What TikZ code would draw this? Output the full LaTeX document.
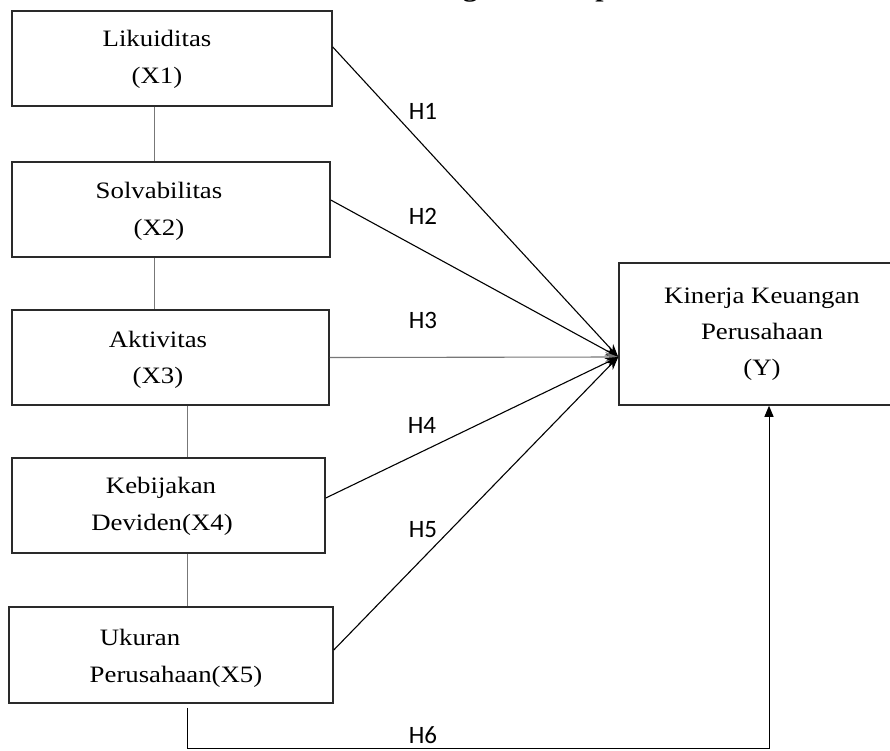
\documentclass[tikz,border=0pt]{standalone}
\usepackage{fontspec}
\setmainfont{Liberation Serif}[FakeStretch=1.14]
\newfontfamily\labfont{Carlito}
\usetikzlibrary{arrows.meta}
\definecolor{boxline}{HTML}{2A2A2A}
\definecolor{linkgray}{HTML}{777777}
\tikzset{
  varbox/.style={draw=boxline, line width=1.5pt, inner sep=0pt},
  boxtext/.style={anchor=base, inner sep=0pt, font=\fontsize{23.5}{36}\selectfont},
  hlabel/.style={anchor=base, inner sep=0pt, font=\labfont\fontsize{25}{30}\selectfont},
  link/.style={draw=linkgray, line width=0.9pt},
  hyp/.style={draw=black, line width=1.1pt, -{Stealth[length=13pt,width=10pt]}},
}
\begin{document}
\begin{tikzpicture}[x=1pt,y=-1pt]
\useasboundingbox (0,0) rectangle (890,751);
\fill[white] (0,0) rectangle (890,751);
\begin{scope}
\clip (0,0) rectangle (890,751);
% title (cut off at the top edge)
\node[anchor=base west, inner sep=0pt, font=\bfseries\fontsize{26}{30}\selectfont] (title) at (382,-3) {Kerangka Konsep};
% boxes
\node[varbox, minimum width=320pt, minimum height=95pt] (X1) at (172,58.5) {};
\node[varbox, minimum width=318pt, minimum height=95pt] (X2) at (171,209.5) {};
\node[varbox, minimum width=317pt, minimum height=95pt] (X3) at (170.5,357.5) {};
\node[varbox, minimum width=313pt, minimum height=95pt] (X4) at (168.5,505.5) {};
\node[varbox, minimum width=324pt, minimum height=96pt] (X5) at (171,655) {};
\node[varbox, minimum width=281pt, minimum height=142pt] (Y) at (759.5,334) {};
\end{scope}
% box texts
\node[boxtext] (t1a) at (157,47) {Likuiditas};
\node[boxtext] (t1b) at (157,84) {(X1)};
\node[boxtext] (t2a) at (159,199) {Solvabilitas};
\node[boxtext] (t2b) at (159,235) {(X2)};
\node[boxtext] (t3a) at (158,347) {Aktivitas};
\node[boxtext] (t3b) at (158,383) {(X3)};
\node[boxtext] (t4a) at (161,493) {Kebijakan};
\node[boxtext] (t4b) at (162,530) {Deviden(X4)};
\node[boxtext] (t5a) at (140,645) {Ukuran};
\node[boxtext] (t5b) at (176,682) {Perusahaan(X5)};
\node[boxtext] (tya) at (762,303) {Kinerja Keuangan};
\node[boxtext] (tyb) at (762,339) {Perusahaan};
\node[boxtext] (tyc) at (762,375) {(Y)};
% links between X boxes
\draw[link] ([xshift=-18pt]X1.south) -- ([xshift=-17pt]X2.north);
\draw[link] ([xshift=-17pt]X2.south) -- ([xshift=-16.5pt]X3.north);
\draw[link] ([xshift=16.5pt]X3.south) -- ([xshift=18.5pt]X4.north);
\draw[link] ([xshift=18.5pt]X4.south) -- ([xshift=16pt]X5.north);
% hypotheses
\coordinate (hub) at ([yshift=-23pt]Y.west);
\draw[hyp] ([yshift=11.5pt]X1.east) -- (hub);
\draw[hyp] ([yshift=9.5pt]X2.east) -- (hub);
\draw[hyp, draw=linkgray] (X3.east) -- (hub);
\draw[hyp] ([yshift=7.5pt]X4.east) -- (hub);
\draw[hyp] ([yshift=5pt]X5.east) -- (hub);
\coordinate (c1) at (187,748);
\coordinate (c2) at (769,748);
\draw[draw=black, line width=1pt, -{Triangle[length=11pt,width=9pt]}]
  ([xshift=16pt,yshift=-4pt]X5.south) -- (c1) -- (c2) -- ([xshift=9.5pt]Y.south);
% labels
\node[hlabel] (h1) at (423,120) {H1};
\node[hlabel] (h2) at (423,225) {H2};
\node[hlabel] (h3) at (423,328) {H3};
\node[hlabel] (h4) at (422,433) {H4};
\node[hlabel] (h5) at (423,537) {H5};
\node[hlabel] (h6) at (423,743) {H6};
\end{tikzpicture}
\end{document}
